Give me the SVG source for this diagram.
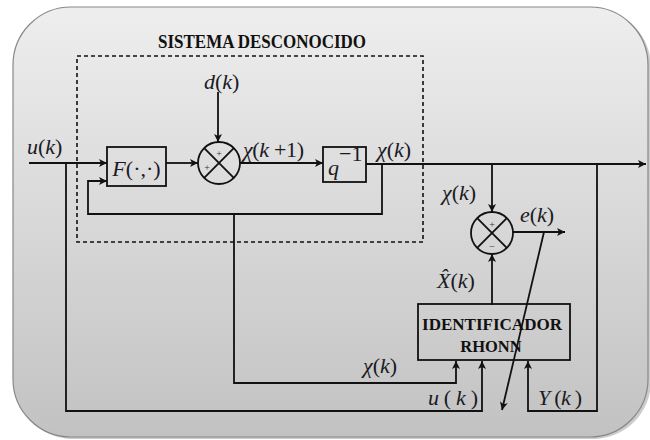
<svg xmlns="http://www.w3.org/2000/svg" width="650" height="440" viewBox="0 0 650 440">
<defs>
<linearGradient id="bg" x1="0" y1="0" x2="0" y2="1">
<stop offset="0" stop-color="#eeeeee"/>
<stop offset="1" stop-color="#c2c2c2"/>
</linearGradient>
<marker id="ah" markerWidth="9" markerHeight="8" refX="8" refY="4" orient="auto" markerUnits="userSpaceOnUse">
<path d="M0,0 L8,4 L0,8 L2,4 z" fill="#111"/>
</marker>
<style>
.ln{fill:none;stroke:#111;stroke-width:1.8}
.ar{fill:none;stroke:#111;stroke-width:1.8;marker-end:url(#ah)}
.box{fill:none;stroke:#111;stroke-width:1.8}
.m{font-family:"Liberation Serif","DejaVu Serif","Times New Roman",serif;font-size:22px;fill:#1a1a24}
.i{font-style:italic}
.b{font-family:"Liberation Serif","DejaVu Serif","Times New Roman",serif;font-weight:bold;fill:#111}
.s{font-family:"Liberation Serif","DejaVu Serif",serif;font-size:10px;fill:#333}
</style>
</defs>
<rect x="15" y="9" width="636" height="430" rx="58" fill="#aaaaaa" opacity="0.6"/>
<rect x="13" y="7" width="635" height="430" rx="58" fill="url(#bg)" stroke="#888" stroke-width="1.2"/>
<text class="b" x="262" y="48" font-size="18" text-anchor="middle" textLength="208" lengthAdjust="spacingAndGlyphs">SISTEMA DESCONOCIDO</text>
<rect x="77" y="56" width="346" height="186" fill="none" stroke="#111" stroke-width="1.6" stroke-dasharray="4,3"/>
<g id="connectors">
<path class="ar" d="M29,163 H107"/>
<path class="ar" d="M66,163 V411 H482 V361"/>
<path class="ar" d="M166,163 H198"/>
<path class="ar" d="M218,92 V142"/>
<path class="ar" d="M240,163 H323"/>
<path class="ar" d="M366,164 H646"/>
<path class="ar" d="M382,164 V214 H88 V181 H107"/>
<path class="ar" d="M234,214 V383 H456 V361"/>
<path class="ar" d="M492,164 V212"/>
<path class="ar" d="M492,305 V254"/>
<path class="ar" d="M513,232 H565"/>
<path class="ar" d="M544,232 L502,410"/>
<path class="ar" d="M597,164 V411 H528 V361"/>
</g>
<g id="F">
<rect class="box" x="107" y="147" width="59" height="39"/>
<text class="m" x="136.5" y="176" font-size="24" text-anchor="middle"><tspan class="i">F</tspan>(·,·)</text>
</g>
<g id="sum1">
<circle cx="219" cy="163" r="21" fill="none" stroke="#111" stroke-width="1.8"/>
<path class="ln" d="M204.2,148.2 L233.8,177.8 M233.8,148.2 L204.2,177.8"/>
<text class="s" x="207" y="171" text-anchor="middle">+</text>
<text class="s" x="219" y="157" text-anchor="middle">+</text>
</g>
<g id="q">
<rect class="box" x="323" y="147" width="43" height="35"/>
<text class="m i" x="328" y="175" font-size="25">q</text>
<text class="m" x="339" y="161" font-size="12">−1</text>
</g>
<g id="sum2">
<circle cx="492" cy="233" r="21" fill="none" stroke="#111" stroke-width="1.8"/>
<path class="ln" d="M477.2,218.2 L506.8,247.8 M506.8,218.2 L477.2,247.8"/>
<text class="s" x="492" y="228" text-anchor="middle">+</text>
<text class="s" x="492" y="250" text-anchor="middle">−</text>
</g>
<g id="identificador">
<rect class="box" x="418" y="304" width="152" height="56"/>
<text class="b" x="492" y="330" font-size="16.5" text-anchor="middle" textLength="140" lengthAdjust="spacingAndGlyphs">IDENTIFICADOR</text>
<text class="b" x="491" y="352" font-size="16.5" text-anchor="middle">RHONN</text>
</g>
<g id="labels">
<text class="m" x="27" y="154"><tspan class="i">u</tspan>(<tspan class="i">k</tspan>)</text>
<text class="m" x="204" y="89"><tspan class="i">d</tspan>(<tspan class="i">k</tspan>)</text>
<text class="m" x="243" y="157" textLength="61"><tspan class="i">χ</tspan>(<tspan class="i">k</tspan> +1)</text>
<text class="m" x="377" y="157"><tspan class="i">χ</tspan>(<tspan class="i">k</tspan>)</text>
<text class="m" x="442" y="200"><tspan class="i">χ</tspan>(<tspan class="i">k</tspan>)</text>
<text class="m" x="520" y="222" font-size="19"><tspan class="i">e</tspan>(<tspan class="i">k</tspan>)</text>
<text class="m" x="437" y="288"><tspan class="i">X̂</tspan>(<tspan class="i">k</tspan>)</text>
<text class="m" x="363" y="373"><tspan class="i">χ</tspan>(<tspan class="i">k</tspan>)</text>
<text class="m" x="428" y="405" textLength="50"><tspan class="i">u</tspan> ( <tspan class="i">k</tspan> )</text>
<text class="m" x="538" y="405" font-size="20" textLength="44"><tspan class="i">Y</tspan> (<tspan class="i">k</tspan> )</text>
</g>
</svg>
